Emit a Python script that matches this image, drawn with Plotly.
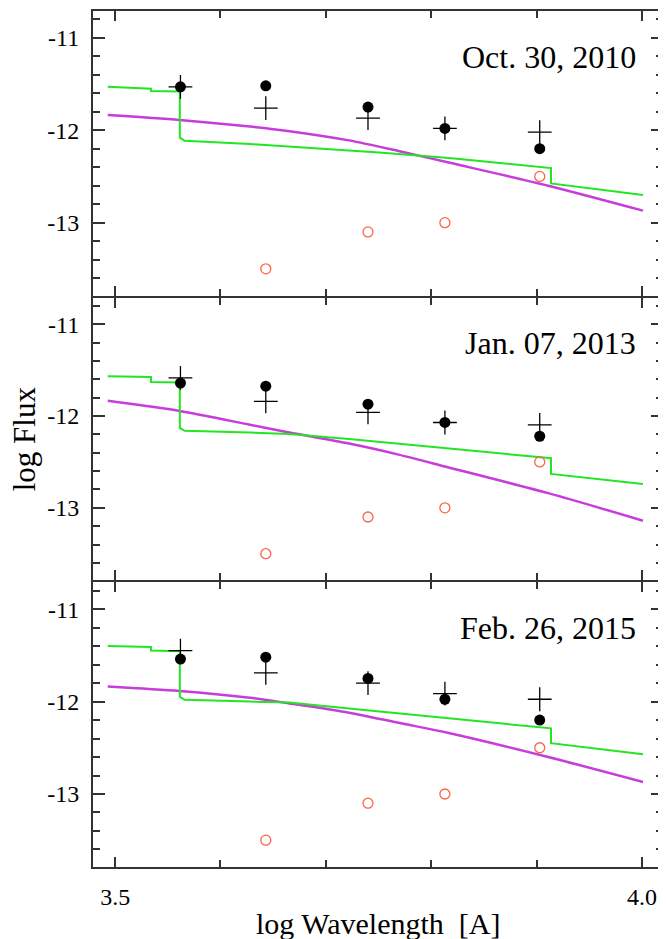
import plotly.graph_objects as go
from plotly.subplots import make_subplots

# ---------------- data ----------------
band_logwl = [3.562, 3.643, 3.740, 3.813, 3.903]
dates = ["Oct. 30, 2010", "Jan. 07, 2013", "Feb. 26, 2015"]

dots_2010 = [-11.53, -11.52, -11.75, -11.98, -12.20]
cross_2010 = [-11.53, -11.76, -11.87, -11.98, -12.02]
dots_2013 = [-11.64, -11.675, -11.87, -12.07, -12.22]
cross_2013 = [-11.585, -11.84, -11.96, -12.07, -12.095]
dots_2015 = [-11.54, -11.52, -11.75, -11.975, -12.20]
cross_2015 = [-11.45, -11.69, -11.80, -11.915, -11.975]
host_open = [None, -13.5, -13.1, -13.0, -12.5]

green_x = [3.493, 3.534, 3.534, 3.5614, 3.5614, 3.566, 3.628, 3.665,
           3.722, 3.7505, 3.817, 3.9137, 3.9137, 4.001]
green_2010 = [-11.53, -11.55, -11.575, -11.58, -12.08, -12.115, -12.15, -12.175,
              -12.22, -12.24, -12.30, -12.41, -12.575, -12.70]
green_2013 = [-11.567, -11.575, -11.63, -11.635, -12.13, -12.16, -12.18, -12.196,
              -12.25, -12.28, -12.35, -12.46, -12.63, -12.74]
green_2015 = [-11.40, -11.41, -11.447, -11.455, -11.95, -11.98, -12.0, -12.01,
              -12.075, -12.106, -12.18, -12.29, -12.45, -12.57]

mag_x = [3.493, 3.5614, 3.628, 3.6654, 3.722, 3.769, 3.8166, 3.911, 4.001]
mag_2010 = [-11.836, -11.89, -11.96, -12.01, -12.11, -12.225, -12.35, -12.60, -12.87]
mag_2013 = [-11.833, -11.944, -12.095, -12.18, -12.30, -12.42, -12.56, -12.84, -13.14]
mag_2015 = [-11.836, -11.885, -11.96, -12.02, -12.12, -12.23, -12.34, -12.60, -12.87]

x_ticks = [3.5, 4.0]
x_ticktext = ["3.5", "4.0"]
y_ticks = [-11, -12, -13]
y_ticktext = ["-11", "-12", "-13"]

# ---------------- figure ----------------
# (the page body has an 8 px margin, so the figure is 8 px smaller each way)
FONT = "Liberation Serif"
AX = "#333333"
GREEN = "#22e622"
MAGENTA = "#c83cdc"
RED = "#ff6347"
LW = 2

PLOT_H = 857
fig = make_subplots(rows=3, cols=1, shared_xaxes=True, vertical_spacing=0)

panels = [
    (dots_2010, cross_2010, green_2010, mag_2010),
    (dots_2013, cross_2013, green_2013, mag_2013),
    (dots_2015, cross_2015, green_2015, mag_2015),
]

for i, (dots, crosses, green, mag) in enumerate(panels):
    r = i + 1
    fig.add_trace(go.Scatter(x=mag_x, y=mag, mode="lines",
                             line=dict(color=MAGENTA, width=2.5, shape="spline",
                                       smoothing=0.8),
                             showlegend=False, hoverinfo="skip"), row=r, col=1)
    fig.add_trace(go.Scatter(x=green_x, y=green, mode="lines",
                             line=dict(color=GREEN, width=2),
                             showlegend=False, hoverinfo="skip"), row=r, col=1)
    fig.add_trace(go.Scatter(x=band_logwl, y=host_open, mode="markers",
                             marker=dict(symbol="circle-open", size=10,
                                         color=RED, line=dict(width=1.3, color=RED)),
                             showlegend=False), row=r, col=1)
    fig.add_trace(go.Scatter(x=band_logwl, y=dots, mode="markers",
                             marker=dict(symbol="circle", size=11, color="black"),
                             showlegend=False), row=r, col=1)
    fig.add_trace(go.Scatter(x=band_logwl, y=crosses, mode="markers",
                             marker=dict(symbol="cross-thin-open", size=17,
                                         color="black",
                                         line=dict(width=1.3, color="black")),
                             showlegend=False), row=r, col=1)

axis_common = dict(showline=True, linecolor=AX, linewidth=LW, mirror="allticks",
                   ticks="inside", tickcolor=AX, tickwidth=1.6,
                   showgrid=False, zeroline=False,
                   tickfont=dict(family=FONT, size=24, color="black"))

# small gaps of one line width so the shared panel borders coincide
domains = [[572 / PLOT_H, 1.0], [287 / PLOT_H, 570 / PLOT_H], [0.0, 285 / PLOT_H]]

for r in range(1, 4):
    fig.update_xaxes(range=[3.479, 4.02], tickmode="array", tickvals=x_ticks,
                     ticktext=x_ticktext, ticklen=10,
                     minor=dict(dtick=0.1, tick0=3.5, ticks="inside", ticklen=7,
                                tickcolor=AX, tickwidth=1.6),
                     showticklabels=(r == 3), ticklabelstandoff=7,
                     row=r, col=1, **axis_common)
    fig.update_yaxes(range=[-13.79, -10.71], tickmode="array", tickvals=y_ticks,
                     ticktext=y_ticktext, ticklen=12, domain=domains[r - 1],
                     minor=dict(dtick=0.2, tick0=-11, ticks="inside", ticklen=7,
                                tickcolor=AX, tickwidth=1.6),
                     ticklabelstandoff=7,
                     row=r, col=1, **axis_common)

annotations = []
for i, d in enumerate(dates):
    yref = "y domain" if i == 0 else f"y{i+1} domain"
    xref = "x domain" if i == 0 else f"x{i+1} domain"
    annotations.append(dict(text=d, xref=xref, yref=yref, x=0.956, y=0.84,
                            xanchor="right", yanchor="middle", showarrow=False,
                            font=dict(family=FONT, size=32, color="black")))

annotations.append(dict(text="log Flux", xref="paper", yref="paper",
                        x=-0.1206, y=0.5, xanchor="center", yanchor="middle",
                        textangle=-90, showarrow=False,
                        font=dict(family=FONT, size=31, color="black")))
annotations.append(dict(text="log Wavelength\u00a0\u00a0[A]", xref="paper", yref="paper",
                        x=0.5, y=-0.0665, xanchor="center", yanchor="middle",
                        showarrow=False,
                        font=dict(family=FONT, size=30, color="black")))

fig.update_layout(width=658, height=931,
                  margin=dict(l=85, r=1, t=2, b=72),
                  paper_bgcolor="white", plot_bgcolor="white",
                  annotations=annotations, showlegend=False)

fig.write_html("out.html")
